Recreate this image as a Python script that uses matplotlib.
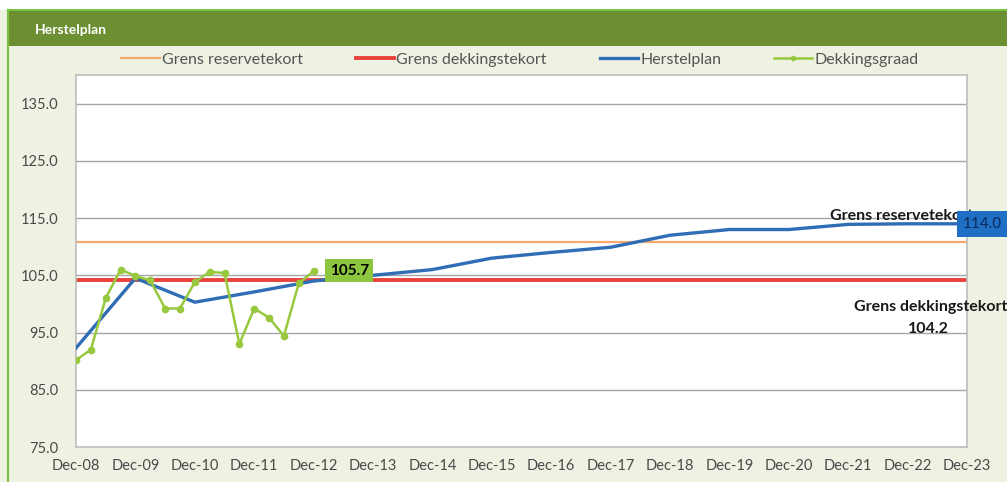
import matplotlib
matplotlib.use("Agg")
import matplotlib.pyplot as plt
from matplotlib.patches import Rectangle
from matplotlib.lines import Line2D

plt.rcParams['font.family'] = ['Lato', 'DejaVu Sans']

# --- data ---
year_labels = ['Dec-08', 'Dec-09', 'Dec-10', 'Dec-11', 'Dec-12', 'Dec-13', 'Dec-14', 'Dec-15',
               'Dec-16', 'Dec-17', 'Dec-18', 'Dec-19', 'Dec-20', 'Dec-21', 'Dec-22', 'Dec-23']
herstelplan = [92.3, 104.5, 100.3, 102.1, 104.0, 105.0, 106.0, 108.0,
               109.0, 109.9, 112.0, 113.0, 113.0, 113.9, 114.0, 114.0]
# quarterly, Dec-08 .. Dec-12
dekkingsgraad = [90.2, 92.0, 101.0, 106.0, 104.9, 104.1, 99.2, 99.2, 103.8,
                 105.6, 105.4, 93.0, 99.2, 97.6, 94.4, 103.6, 105.7]
grens_reservetekort = 110.9
grens_dekkingstekort = 104.2

W, H = 1007, 482
fig = plt.figure(figsize=(W / 100, H / 100), dpi=100)
fig.patch.set_facecolor('#eef2e2')


def fx(px):
    return px / W


def fy(py):
    return 1 - py / H


# white strip on top, thin green frame, dark header bar
fig.patches.append(Rectangle((0, fy(10)), 1, 10 / H, transform=fig.transFigure,
                             facecolor='white', edgecolor='none', zorder=0))
fig.patches.append(Rectangle((fx(8), fy(46)), 1, 36 / H, transform=fig.transFigure,
                             facecolor='#6c8f31', edgecolor='none', zorder=1))
fig.add_artist(Line2D([fx(8), 1], [fy(10), fy(10)], transform=fig.transFigure,
                      color='#7cc242', lw=1.5))
fig.add_artist(Line2D([fx(8), fx(8)], [fy(10), 0], transform=fig.transFigure,
                      color='#7cc242', lw=1.5))
fig.text(fx(35), fy(30), 'Herstelplan', color='white', fontsize=10, fontweight='bold',
         va='center', ha='left')

ax = fig.add_axes([fx(76), fy(447), fx(967 - 76), (447 - 75) / H])
ax.set_facecolor('white')

x_year = list(range(len(herstelplan)))
x_quarter = [i * 0.25 for i in range(len(dekkingsgraad))]

ax.axhline(grens_reservetekort, color='#f6a96c', lw=1.6, zorder=2)
ax.axhline(grens_dekkingstekort, color='#e8423b', lw=2.8, zorder=2)
ax.plot(x_year, herstelplan, color='#2f6db5', lw=2.4, zorder=3)
ax.plot(x_quarter, dekkingsgraad, color='#97c83e', lw=1.8, marker='o', markersize=4.5,
        zorder=4)

ax.set_xlim(0, 15)
ax.set_ylim(75, 140)
ax.set_yticks([75, 85, 95, 105, 115, 125, 135])
ax.set_yticklabels([f'{v:.1f}' for v in [75, 85, 95, 105, 115, 125, 135]])
ax.set_xticks(x_year)
ax.set_xticklabels(year_labels)
ax.tick_params(length=0, labelsize=10.5, labelcolor='#4a4a4a')
ax.tick_params(axis='y', pad=13)
ax.tick_params(axis='x', pad=9)
ax.grid(axis='y', color='#a6a6a6', lw=1)
ax.set_axisbelow(True)
for s in ax.spines.values():
    s.set_color('#bdbdbd')
    s.set_linewidth(1.2)

# data labels
ax.text(4.6, dekkingsgraad[-1] + 0.1, '105.7', fontsize=11, fontweight='bold', color='black',
        ha='center', va='center', zorder=6,
        bbox=dict(boxstyle='square,pad=0.3', facecolor='#8cc63f', edgecolor='none'))
ax.text(12.7, 115.4, 'Grens reservetekort', fontsize=11.5, fontweight='bold', color='#1a1a1a',
        ha='left', va='center', zorder=5, clip_on=False)
ax.text(14.93, herstelplan[-1], '114.0', fontsize=11, color='#0d2a5c',
        ha='left', va='center', zorder=7, clip_on=False,
        bbox=dict(boxstyle='square,pad=0.4', facecolor='#1f6fc4', edgecolor='none'))
fig.text(fx(1007), fy(307), 'Grens dekkingstekort', fontsize=11.5, fontweight='bold',
         color='#1a1a1a', ha='right', va='center')
fig.text(fx(928), fy(329), '104.2', fontsize=11.5, fontweight='bold', color='#1a1a1a',
         ha='center', va='center')

# legend row above the plot
handles = [
    Line2D([], [], color='#f6a96c', lw=1.6),
    Line2D([], [], color='#e8423b', lw=2.8),
    Line2D([], [], color='#2f6db5', lw=2.4),
    Line2D([], [], color='#97c83e', lw=1.8, marker='o', markersize=3),
]
fig.legend(handles, ['Grens reservetekort', 'Grens dekkingstekort', 'Herstelplan', 'Dekkingsgraad'],
           loc='center', bbox_to_anchor=(fx(520), fy(60)), ncol=4, frameon=False,
           fontsize=11.5, labelcolor='#555555', handlelength=2.4, handletextpad=0.15,
           columnspacing=3.3)

fig.savefig('out.png', dpi=100, facecolor=fig.get_facecolor())
